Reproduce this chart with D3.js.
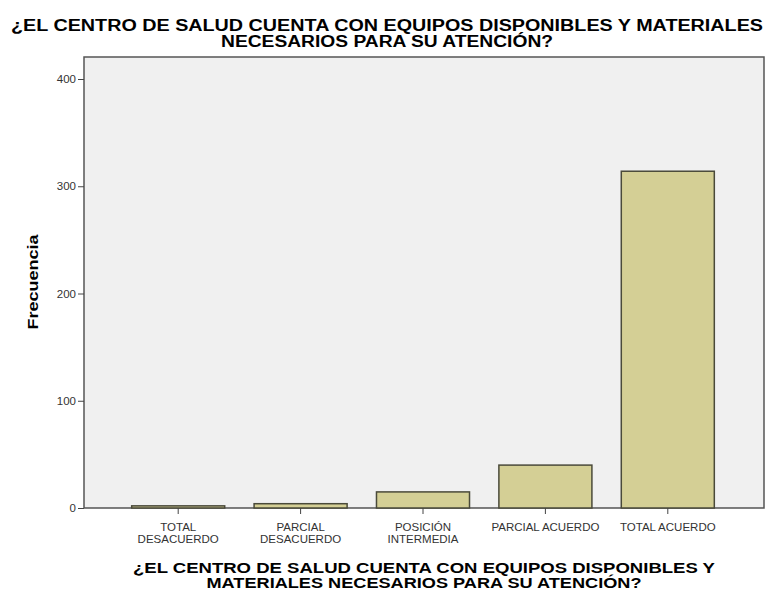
<!DOCTYPE html>
<html>
<head>
<meta charset="UTF-8">
<title>Frecuencia</title>
<script src="https://cdn.jsdelivr.net/npm/d3@7"></script>
<style>
body { margin:0; background:#fff; font-family:Arial, "Liberation Sans", sans-serif; }
</style>
</head>
<body>
<svg id="chart" width="771" height="591"></svg>
<script>
// data
var categories = [["TOTAL","DESACUERDO"],["PARCIAL","DESACUERDO"],["POSICIÓN","INTERMEDIA"],["PARCIAL ACUERDO"],["TOTAL ACUERDO"]]
var frecuencia = [2, 4, 15, 40, 314]
var yTicks = [0, 100, 200, 300, 400]
var titleLines = ["¿EL CENTRO DE SALUD CUENTA CON EQUIPOS DISPONIBLES Y MATERIALES", "NECESARIOS PARA SU ATENCIÓN?"]
var xTitleLines = ["¿EL CENTRO DE SALUD CUENTA CON EQUIPOS DISPONIBLES Y", "MATERIALES NECESARIOS PARA SU ATENCIÓN?"]

// frame of the plot area (note: "top" is reserved in browsers)
var pLeft = 84, pRight = 764, pTop = 57, pBottom = 508

var svg = d3.select("#chart")

// plot face
svg.append("rect")
  .attr("x", pLeft).attr("y", pTop)
  .attr("width", pRight-pLeft).attr("height", pBottom-pTop)
  .attr("fill", "#f0f0f0")
  .attr("stroke", "#555").attr("stroke-width", 1.5)

var x = d3.scaleBand()
  .domain(d3.range(categories.length))
  .range([pLeft+33, pRight-35])
  .paddingInner(0.24)
  .paddingOuter(0.12)

var y = d3.scaleLinear()
  .domain([0, 400])
  .range([pBottom, 79])

// bars
svg.selectAll(".bar")
  .data(frecuencia)
  .enter().append("rect")
  .attr("class", "bar")
  .attr("x", function(d, i) { return x(i) })
  .attr("y", function(d) { return y(d) })
  .attr("width", x.bandwidth())
  .attr("height", function(d) { return pBottom - y(d) })
  .attr("fill", "#d4cf95")
  .attr("stroke", "#4a4a3a")
  .attr("stroke-width", 1.5)

// y axis
var yAxis = svg.append("g")
  .attr("transform", "translate(" + pLeft + ",0)")
  .call(d3.axisLeft(y).tickValues(yTicks).tickSize(6).tickPadding(2))
yAxis.select(".domain").remove()
yAxis.selectAll("line").attr("stroke", "#444")
yAxis.selectAll("text").attr("fill", "#333").attr("font-size", "11.5px").attr("font-family", "Arial, sans-serif")

// x axis
var xAxis = svg.append("g")
  .attr("transform", "translate(0," + pBottom + ")")
  .call(d3.axisBottom(x).tickSize(6).tickFormat(""))
xAxis.select(".domain").remove()
xAxis.selectAll("line").attr("stroke", "#444")
xAxis.selectAll(".tick").each(function(d) {
  var t = d3.select(this).append("text")
    .attr("fill", "#333")
    .attr("font-size", "11.5px")
    .attr("font-family", "Arial, sans-serif")
    .attr("text-anchor", "middle")
    .attr("y", 23)
  categories[d].forEach(function(line, k) {
    t.append("tspan").attr("x", 0).attr("dy", k ? 12 : 0).text(line)
  })
})

// titles
var titleLen = [752, 332]
svg.append("text")
  .attr("text-anchor", "middle")
  .attr("font-size", "16px").attr("font-weight", "bold")
  .attr("font-family", "Arial, sans-serif")
  .selectAll("tspan").data(titleLines).enter().append("tspan")
  .attr("x", 387).attr("y", function(d, i) { return 31 + i*16 })
  .attr("textLength", function(d, i) { return titleLen[i] })
  .attr("lengthAdjust", "spacingAndGlyphs")
  .text(function(d) { return d })

var xTitleLen = [582, 435]
svg.append("text")
  .attr("text-anchor", "middle")
  .attr("font-size", "14.5px").attr("font-weight", "bold")
  .attr("font-family", "Arial, sans-serif")
  .selectAll("tspan").data(xTitleLines).enter().append("tspan")
  .attr("x", 424).attr("y", function(d, i) { return 573 + i*14.5 })
  .attr("textLength", function(d, i) { return xTitleLen[i] })
  .attr("lengthAdjust", "spacingAndGlyphs")
  .text(function(d) { return d })

svg.append("text")
  .attr("transform", "translate(38,282)rotate(-90)")
  .attr("text-anchor", "middle")
  .attr("font-size", "14px").attr("font-weight", "bold")
  .attr("font-family", "Arial, sans-serif")
  .attr("textLength", 95)
  .attr("lengthAdjust", "spacingAndGlyphs")
  .text("Frecuencia")
</script>
</body>
</html>
